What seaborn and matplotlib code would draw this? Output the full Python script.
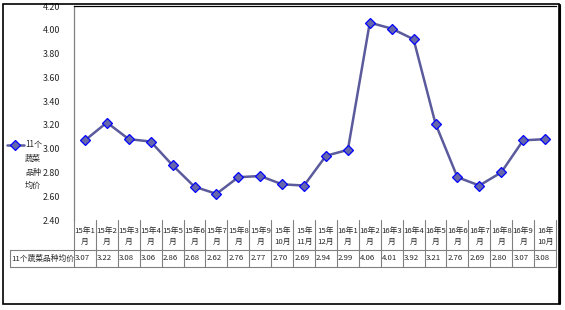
import matplotlib
matplotlib.use("Agg")
import matplotlib.pyplot as plt
import matplotlib.transforms as mtransforms
from matplotlib.lines import Line2D
from matplotlib.patches import Rectangle
import seaborn as sns
import pandas as pd

months = ["15年1\n月", "15年2\n月", "15年3\n月", "15年4\n月", "15年5\n月", "15年6\n月",
          "15年7\n月", "15年8\n月", "15年9\n月", "15年\n10月", "15年\n11月", "15年\n12月",
          "16年1\n月", "16年2\n月", "16年3\n月", "16年4\n月", "16年5\n月", "16年6\n月",
          "16年7\n月", "16年8\n月", "16年9\n月", "16年\n10月"]
prices = [3.07, 3.22, 3.08, 3.06, 2.86, 2.68, 2.62, 2.76, 2.77, 2.70, 2.69, 2.94,
          2.99, 4.06, 4.01, 3.92, 3.21, 2.76, 2.69, 2.80, 3.07, 3.08]
series_name = "11个蔬菜品种均价"
legend_lines = ["11个", "蔬菜", "品种", "均价"]
yticks = [2.40, 2.60, 2.80, 3.00, 3.20, 3.40, 3.60, 3.80, 4.00, 4.20]

sns.set_style("white")
plt.rcParams['font.family'] = ['Noto Sans CJK SC', 'DejaVu Sans']

W, H = 565, 310
fig = plt.figure(figsize=(W / 100, H / 100), dpi=100)

def fx(px):
    return px / W

def fy(py):
    return 1 - py / H

ax_l, ax_r, ax_t, ax_b = 74, 556, 6, 220
ax = fig.add_axes([fx(ax_l), fy(ax_b), fx(ax_r) - fx(ax_l), fy(ax_t) - fy(ax_b)])

df = pd.DataFrame({"month": list(range(len(months))), "price": prices})
line_color = "#5a5a9c"
mk = dict(marker="D", markersize=5.0, markerfacecolor="#6666aa",
          markeredgecolor="#0000ff", markeredgewidth=0.9)
sns.lineplot(data=df, x="month", y="price", ax=ax, color=line_color, linewidth=1.8, **mk)

ax.set_xlim(-0.5, len(months) - 0.5)
ax.set_ylim(2.40, 4.20)
ax.set_yticks(yticks)
ax.set_yticklabels([f"{v:.2f}" for v in yticks], fontsize=6.4)
ax.tick_params(axis="y", length=0, pad=10)
ax.set_xticks([])
ax.set_xlabel("")
ax.set_ylabel("")
ax.spines["top"].set_color("black")
ax.spines["top"].set_linewidth(0.9)
ax.spines["left"].set_color("#808080")
ax.spines["left"].set_linewidth(0.9)
ax.spines["right"].set_visible(False)
ax.spines["bottom"].set_visible(False)

# data table below the plot
bt = mtransforms.blended_transform_factory(ax.transData, fig.transFigure)
grid_c = "#808080"
hdr_top, hdr_bot, row_bot = 220, 250, 267
n = len(months)
for i in range(n + 1):
    xb = i - 0.5
    fig.add_artist(Line2D([xb, xb], [fy(hdr_top), fy(row_bot)], transform=bt,
                          color=grid_c, lw=0.8))
for yy in [hdr_bot, row_bot]:
    fig.add_artist(Line2D([fx(10), fx(ax_r)], [fy(yy), fy(yy)], transform=fig.transFigure,
                          color=grid_c, lw=0.8))
fig.add_artist(Line2D([fx(10), fx(10)], [fy(hdr_bot), fy(row_bot)], transform=fig.transFigure,
                      color=grid_c, lw=0.8))
for i, (m, p) in enumerate(zip(months, prices)):
    fig.text(i, fy((hdr_top + hdr_bot) / 2 + 1), m, transform=bt, ha="center", va="center",
             fontsize=5.6, linespacing=1.5, multialignment="center")
    fig.text(i - 0.45, fy((hdr_bot + row_bot) / 2), f"{p:.2f}", transform=bt, ha="left",
             va="center", fontsize=5.6)
fig.text(fx(11), fy((hdr_bot + row_bot) / 2), series_name, ha="left", va="center", fontsize=5.6)

# legend at left
fig.add_artist(Line2D([fx(7), fx(24)], [fy(145), fy(145)], transform=fig.transFigure,
                      color=line_color, lw=1.8))
fig.add_artist(Line2D([fx(15)], [fy(145)], transform=fig.transFigure, linestyle="none", **mk))
for k, t in enumerate(legend_lines):
    fig.text(fx(25), fy(145 + k * 13.5), t, ha="left", va="center", fontsize=5.8)

# outer frame
fig.add_artist(Rectangle((fx(3), fy(304)), fx(559) - fx(3), fy(4) - fy(304),
                         transform=fig.transFigure, fill=False, edgecolor="black", lw=1.2))
fig.add_artist(Line2D([fx(560), fx(560)], [fy(304), fy(5)], transform=fig.transFigure,
                      color="black", lw=1.5))

fig.savefig("out.png", dpi=100)
